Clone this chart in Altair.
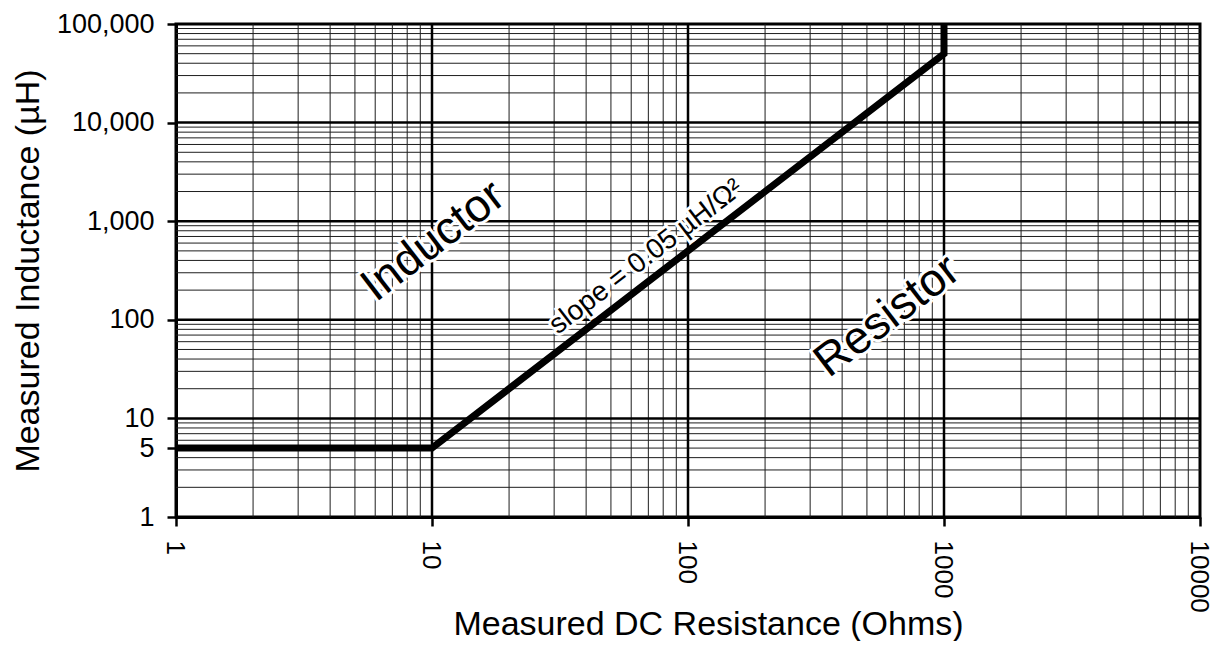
import altair as alt
import pandas as pd

# Data line
resistance = [1, 10, 1000, 1000]
inductance = [5, 5, 50000, 100000]

# Axis ticks
x_ticks = [1, 10, 100, 1000, 10000]
y_ticks = [1, 5, 10, 100, 1000, 10000, 100000]

# Grid lines
x_minor = [m * d for d in [1, 10, 100, 1000] for m in range(2, 10)]
x_major = [10, 100, 1000]
y_minor = [m * d for d in [1, 10, 100, 1000, 10000] for m in range(2, 10)]
y_major = [10, 100, 1000, 10000]

# Annotations
ann_text = ["Inductor", "Resistor"]
ann_x = [10.1, 600]
ann_y = [630, 109]
slope_text = ["slope = 0.05 µH/Ω²"]
slope_x = [68.7]
slope_y = [433]

FONT = "Liberation Sans"
xs = alt.Scale(type="log", domain=[1, 10000], nice=False)
ys = alt.Scale(type="log", domain=[1, 100000], nice=False)

xa = alt.Axis(
    values=x_ticks, format="d", labelAngle=90, labelAlign="left", labelBaseline="middle",
    labelFontSize=26, labelFont=FONT, labelColor="black", labelPadding=14, labelOffset=-2,
    tickSize=9, tickWidth=2.5, tickColor="black", domainColor="black", domainWidth=3,
    grid=False, title="Measured DC Resistance (Ohms)", titleFont=FONT, titleFontSize=34,
    titleFontWeight="normal", titleColor="black", titleX=532, titleY=117,
    titleBaseline="alphabetic", labelFlush=False, labelOverlap=False,
)
ya = alt.Axis(
    values=y_ticks, format=",d", labelFontSize=27, labelFont=FONT, labelColor="black",
    labelPadding=13, tickSize=9, tickWidth=2.5, tickColor="black", domainColor="black",
    domainWidth=3, grid=False, title="Measured Inductance (µH)", titleFont=FONT,
    titleFontSize=34, titleFontWeight="normal", titleColor="black", titlePadding=11,
    labelFlush=False, labelOverlap=False,
)

line_df = pd.DataFrame({"R": resistance, "L": inductance})
ann_df = pd.DataFrame({"t": ann_text, "x": ann_x, "y": ann_y})
slope_df = pd.DataFrame({"t": slope_text, "x": slope_x, "y": slope_y})

def vrules(vals, color, width):
    return alt.Chart(pd.DataFrame({"v": vals})).mark_rule(color=color, strokeWidth=width).encode(
        x=alt.X("v:Q", scale=xs, axis=xa)
    )

def hrules(vals, color, width):
    return alt.Chart(pd.DataFrame({"v": vals})).mark_rule(color=color, strokeWidth=width).encode(
        y=alt.Y("v:Q", scale=ys, axis=ya)
    )

line = alt.Chart(line_df).mark_line(color="black", strokeWidth=7, strokeJoin="miter").encode(
    x=alt.X("R:Q", scale=xs, axis=xa),
    y=alt.Y("L:Q", scale=ys, axis=ya),
    order=alt.Order("L:Q"),
)

def texts(df, size):
    base = alt.Chart(df).encode(
        x=alt.X("x:Q", scale=xs, axis=xa),
        y=alt.Y("y:Q", scale=ys, axis=ya),
        text="t:N",
    )
    halo = base.mark_text(font=FONT, fontSize=size, angle=322.5, align="center", baseline="middle",
                          stroke="white", strokeWidth=6, color="white")
    fg = base.mark_text(font=FONT, fontSize=size, angle=322.5, align="center", baseline="middle",
                        color="black")
    return [halo, fg]

chart = alt.layer(
    vrules(x_minor, "#1e1e1e", 1),
    hrules(y_minor, "#1e1e1e", 1),
    vrules(x_major, "black", 2.5),
    hrules(y_major, "black", 2.5),
    line,
    *texts(ann_df, 46),
    *texts(slope_df, 28),
).properties(
    width=1024, height=493,
    background="white",
    autosize=alt.AutoSizeParams(type="none"),
    padding={"left": 168, "top": 16, "right": 11, "bottom": 124},
).configure_view(stroke="black", strokeWidth=3)

chart.save("out.html", embed_options={"renderer": "svg", "actions": False})
